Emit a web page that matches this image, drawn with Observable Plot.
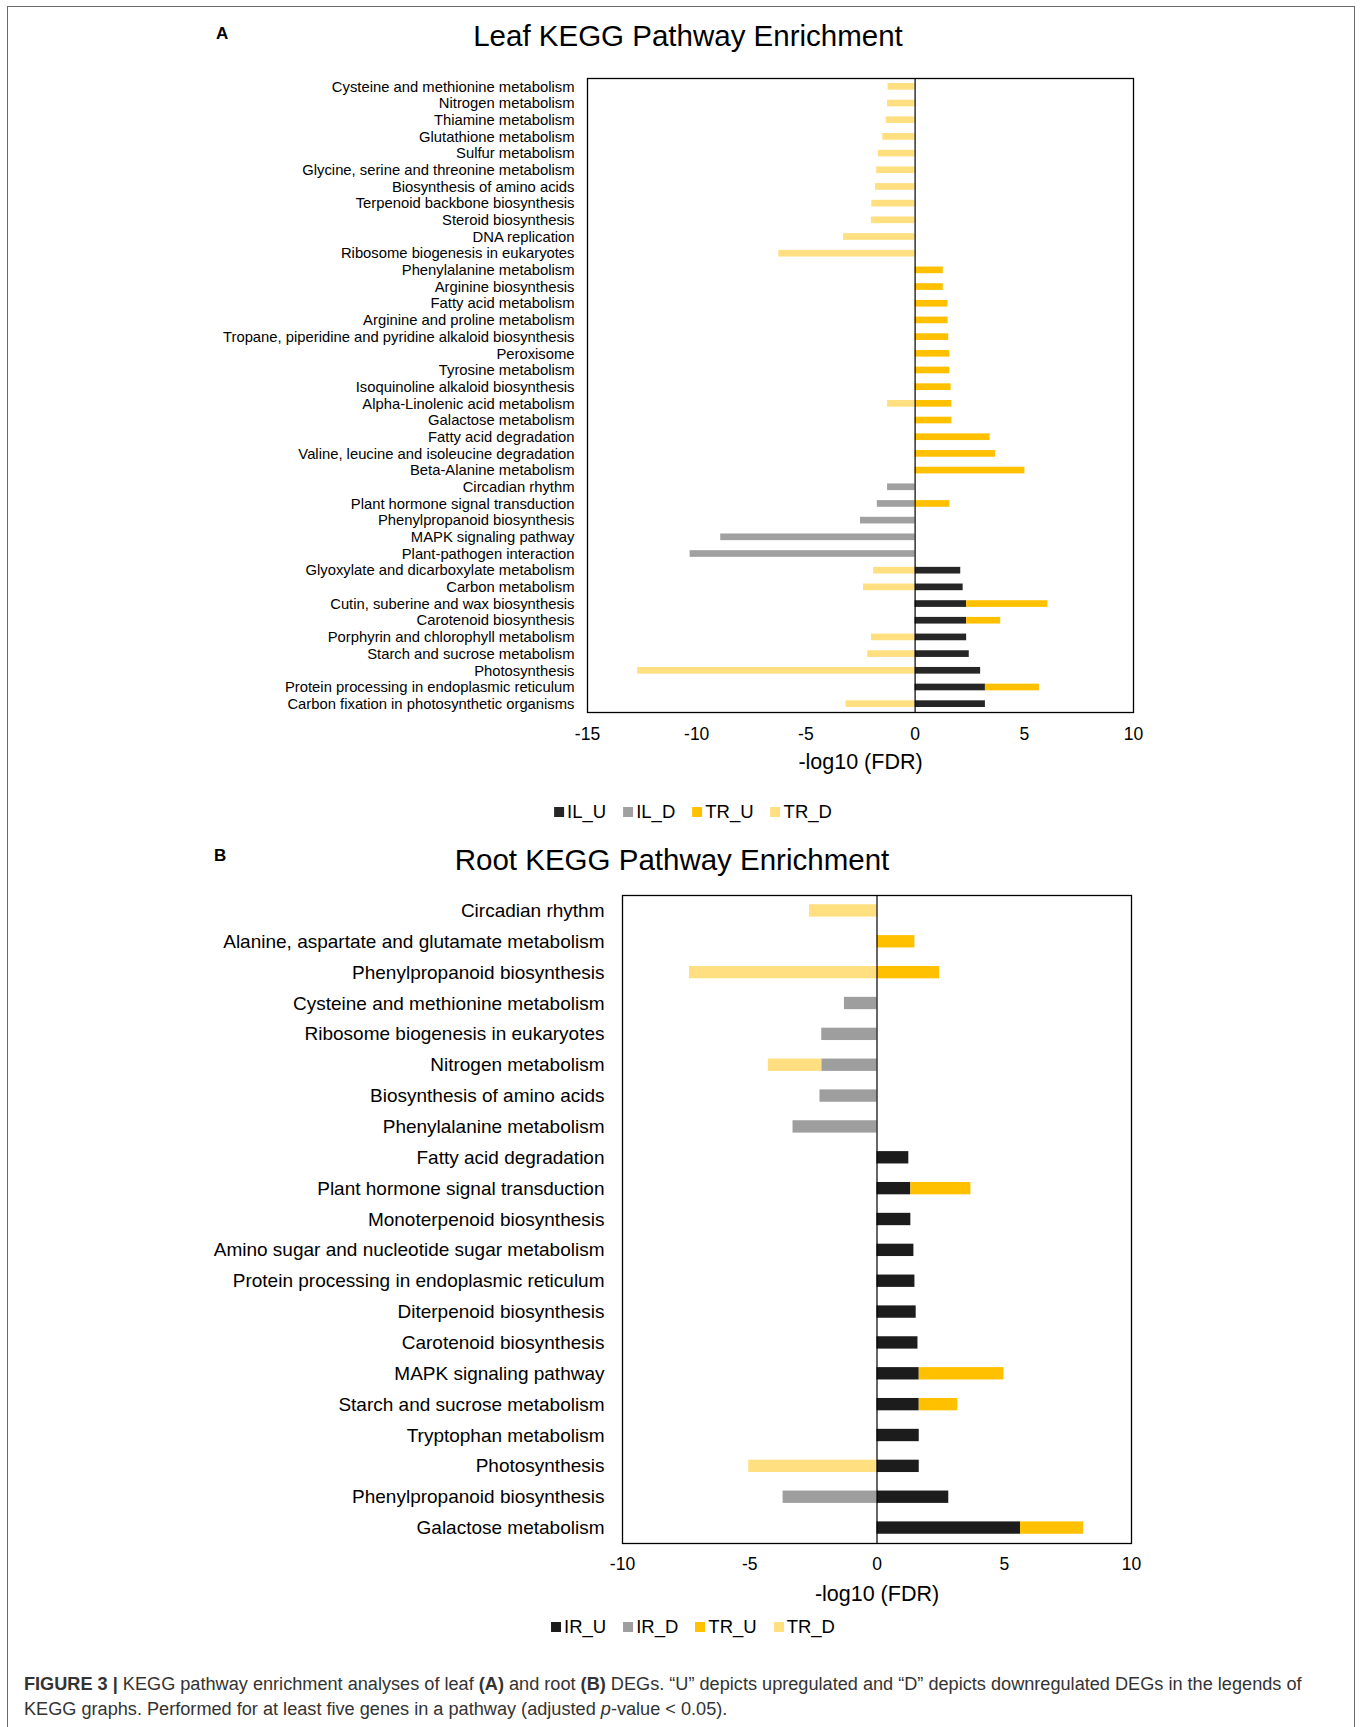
<!DOCTYPE html>
<html>
<head>
<meta charset="utf-8">
<script src="https://cdn.jsdelivr.net/npm/d3@7"></script>
<script src="https://cdn.jsdelivr.net/npm/@observablehq/plot@0.6"></script>
<style>
  html, body { margin: 0; padding: 0; background: #fff; }
  #page { position: relative; width: 1362px; height: 1727px; overflow: hidden; background: #fff;
          font-family: "Liberation Sans", Arial, Helvetica, sans-serif; color: #000; }
  #border { position: absolute; left: 7px; top: 6px; width: 1348px; height: 1740px;
            border: 1.5px solid #6a6a6a; border-bottom: none; box-sizing: border-box; }
  .abs { position: absolute; }
  .panel { font-weight: bold; font-size: 17px; }
  .title { font-size: 29.5px; white-space: nowrap; transform: translate(-50%, -50%); }
  .legend { display: flex; gap: 17px; align-items: center; font-size: 18.5px; transform: translate(-50%, -50%); white-space: nowrap; }
  .legend span.sw { display: inline-block; width: 10px; height: 10px; margin-right: 3px; vertical-align: middle; position: relative; top: -1px; }
  #caption { left: 24px; top: 1672px; font-size: 18.15px; line-height: 25px; color: #333; white-space: nowrap; }
</style>
</head>
<body>
<div id="page">
  <div id="border"></div>
  <div class="abs panel" style="left:216px; top:24px;">A</div>
  <div class="abs title" style="left:688px; top:36px;">Leaf KEGG Pathway Enrichment</div>
  <div class="abs" id="leaf" style="left:0; top:60px;"></div>
  <div class="abs legend" id="leafLegend" style="left:693px; top:812px;"></div>

  <div class="abs panel" style="left:214px; top:846px;">B</div>
  <div class="abs title" style="left:672px; top:860px;">Root KEGG Pathway Enrichment</div>
  <div class="abs" id="root" style="left:0; top:880px;"></div>
  <div class="abs legend" id="rootLegend" style="left:693px; top:1627px;"></div>

  <div class="abs" id="caption"><b>FIGURE 3 |</b> KEGG pathway enrichment analyses of leaf <b>(A)</b> and root <b>(B)</b> DEGs. “U” depicts upregulated and “D” depicts downregulated DEGs in the legends of<br>KEGG graphs. Performed for at least five genes in a pathway (adjusted <i>p</i>-value &lt; 0.05).</div>
</div>
<script>
// ---------------- Leaf data ----------------
const leafPathways = [
  "Cysteine and methionine metabolism",
  "Nitrogen metabolism",
  "Thiamine metabolism",
  "Glutathione metabolism",
  "Sulfur metabolism",
  "Glycine, serine and threonine metabolism",
  "Biosynthesis of amino acids",
  "Terpenoid backbone biosynthesis",
  "Steroid biosynthesis",
  "DNA replication",
  "Ribosome biogenesis in eukaryotes",
  "Phenylalanine metabolism",
  "Arginine biosynthesis",
  "Fatty acid metabolism",
  "Arginine and proline metabolism",
  "Tropane, piperidine and pyridine alkaloid biosynthesis",
  "Peroxisome",
  "Tyrosine metabolism",
  "Isoquinoline alkaloid biosynthesis",
  "Alpha-Linolenic acid metabolism",
  "Galactose metabolism",
  "Fatty acid degradation",
  "Valine, leucine and isoleucine degradation",
  "Beta-Alanine metabolism",
  "Circadian rhythm",
  "Plant hormone signal transduction",
  "Phenylpropanoid biosynthesis",
  "MAPK signaling pathway",
  "Plant-pathogen interaction",
  "Glyoxylate and dicarboxylate metabolism",
  "Carbon metabolism",
  "Cutin, suberine and wax biosynthesis",
  "Carotenoid biosynthesis",
  "Porphyrin and chlorophyll metabolism",
  "Starch and sucrose metabolism",
  "Photosynthesis",
  "Protein processing in endoplasmic reticulum",
  "Carbon fixation in photosynthetic organisms"
];
const leafIL_U = [0,0,0,0,0,0,0,0,0,0,0, 0,0,0,0,0,0,0,0,0,0,0,0,0, 0,0,0,0,0, 2.09,2.2,2.36,2.36,2.36,2.48,3.0,3.22,3.22];
const leafIL_D = [0,0,0,0,0,0,0,0,0,0,0, 0,0,0,0,0,0,0,0,0,0,0,0,0, -1.26,-1.73,-2.5,-8.9,-10.3, 0,0,0,0,0,0,0,0,0];
const leafTR_U = [0,0,0,0,0,0,0,0,0,0,0, 1.29,1.29,1.51,1.51,1.54,1.59,1.59,1.65,1.68,1.68,3.43,3.68,5.03, 0,1.59,0,0,0, 0,0,3.72,1.56,0,0,0,2.47,0];
const leafTR_D = [-1.24,-1.26,-1.32,-1.48,-1.68,-1.76,-1.81,-1.98,-2.0,-3.27,-6.24, 0,0,0,0,0,0,0,0,-1.26,0,0,0,0, 0,0,0,0,0, -1.9,-2.36,0,0,-2.0,-2.17,-12.7,0,-3.16];
const leafSeries = ["IL_U", "IL_D", "TR_U", "TR_D"];
const leafTicks = [-15, -10, -5, 0, 5, 10];

// ---------------- Root data ----------------
const rootPathways = [
  "Circadian rhythm",
  "Alanine, aspartate and glutamate metabolism",
  "Phenylpropanoid biosynthesis",
  "Cysteine and methionine metabolism",
  "Ribosome biogenesis in eukaryotes",
  "Nitrogen metabolism",
  "Biosynthesis of amino acids",
  "Phenylalanine metabolism",
  "Fatty acid degradation",
  "Plant hormone signal transduction",
  "Monoterpenoid biosynthesis",
  "Amino sugar and nucleotide sugar metabolism",
  "Protein processing in endoplasmic reticulum",
  "Diterpenoid biosynthesis",
  "Carotenoid biosynthesis",
  "MAPK signaling pathway",
  "Starch and sucrose metabolism",
  "Tryptophan metabolism",
  "Photosynthesis",
  "Phenylpropanoid biosynthesis",
  "Galactose metabolism"
];
const rootIR_U = [0,0,0,0,0,0,0,0, 1.25,1.33,1.33,1.45,1.49,1.54,1.61,1.66,1.66,1.66,1.66,2.82,5.64];
const rootIR_D = [0,0,0,-1.28,-2.17,-2.17,-2.24,-3.3, 0,0,0,0,0,0,0,0,0,0,0,-3.69,0];
const rootTR_U = [0,1.49,2.46,0,0,0,0,0, 0,2.36,0,0,0,0,0,3.33,1.52,0,0,0,2.48];
const rootTR_D = [-2.65,0,-7.37,0,0,-2.1,0,0, 0,0,0,0,0,0,0,0,0,0,-5.04,0,0];
const rootSeries = ["IR_U", "IR_D", "TR_U", "TR_D"];
const rootTicks = [-10, -5, 0, 5, 10];

const leafColors = ["#262626", "#a0a0a0", "#ffc000", "#ffdf80"];
const rootColors = ["#1c1c1c", "#9e9e9e", "#ffc000", "#ffdf80"];

function buildRows(pathways, seriesNames, seriesArrays) {
  const rows = [];
  seriesNames.forEach((s, si) => {
    seriesArrays[si].forEach((v, i) => {
      if (v !== 0) rows.push({key: String(i), pathway: pathways[i], series: s, value: v});
    });
  });
  return rows;
}

const hyphen = (d) => String(d).replace("\u2212", "-");

function makeChart({pathways, seriesNames, seriesArrays, colors, domain, ticks, marginLeft, marginRight,
                    marginTop, marginBottom, height, labelSize, tickPadY, tickPadX, titleDy}) {
  const rows = buildRows(pathways, seriesNames, seriesArrays);
  const keys = pathways.map((_, i) => String(i));
  return Plot.plot({
    width: 1362,
    height,
    marginLeft, marginRight, marginTop, marginBottom,
    style: {fontFamily: "'Liberation Sans', Arial, Helvetica, sans-serif", background: "transparent", overflow: "visible", color: "#000"},
    x: {domain, ticks},
    y: {domain: keys, paddingInner: 0.6, paddingOuter: 0.3, round: false},
    color: {domain: seriesNames, range: colors},
    marks: [
      Plot.barX(rows, Plot.stackX({x: "value", y: "key", fill: "series"})),
      Plot.ruleX([0], {stroke: "#000", strokeWidth: 1.2}),
      Plot.frame({stroke: "#000", strokeWidth: 1.3}),
      Plot.axisY({tickSize: 0, tickPadding: tickPadY, fontSize: labelSize, label: null,
                  tickFormat: (k) => pathways[+k]}),
      Plot.axisX({ticks, tickSize: 0, tickPadding: tickPadX, fontSize: 17.5, label: null,
                  tickFormat: (d) => hyphen(d)}),
      Plot.text(["-log10 (FDR)"], {frameAnchor: "bottom", dy: titleDy, fontSize: 21.5, lineAnchor: "middle"})
    ]
  });
}

function makeLegend(el, names, colors) {
  names.forEach((n, i) => {
    const item = document.createElement("span");
    item.innerHTML = `<span class="sw" style="background:${colors[i]}"></span>${n}`;
    el.appendChild(item);
  });
}

document.getElementById("leaf").appendChild(makeChart({
  pathways: leafPathways, seriesNames: leafSeries,
  seriesArrays: [leafIL_U, leafIL_D, leafTR_U, leafTR_D], colors: leafColors,
  domain: [-15, 10], ticks: leafTicks,
  marginLeft: 587, marginRight: 229, marginTop: 18, marginBottom: 68, height: 720,
  labelSize: 14.8, tickPadY: 13, tickPadX: 15, titleDy: 50
}));
makeLegend(document.getElementById("leafLegend"), leafSeries, leafColors);

document.getElementById("root").appendChild(makeChart({
  pathways: rootPathways, seriesNames: rootSeries,
  seriesArrays: [rootIR_U, rootIR_D, rootTR_U, rootTR_D], colors: rootColors,
  domain: [-10, 10], ticks: rootTicks,
  marginLeft: 622, marginRight: 231, marginTop: 15, marginBottom: 70, height: 733,
  labelSize: 19, tickPadY: 18, tickPadX: 14, titleDy: 51
}));
makeLegend(document.getElementById("rootLegend"), rootSeries, rootColors);
</script>
</body>
</html>
